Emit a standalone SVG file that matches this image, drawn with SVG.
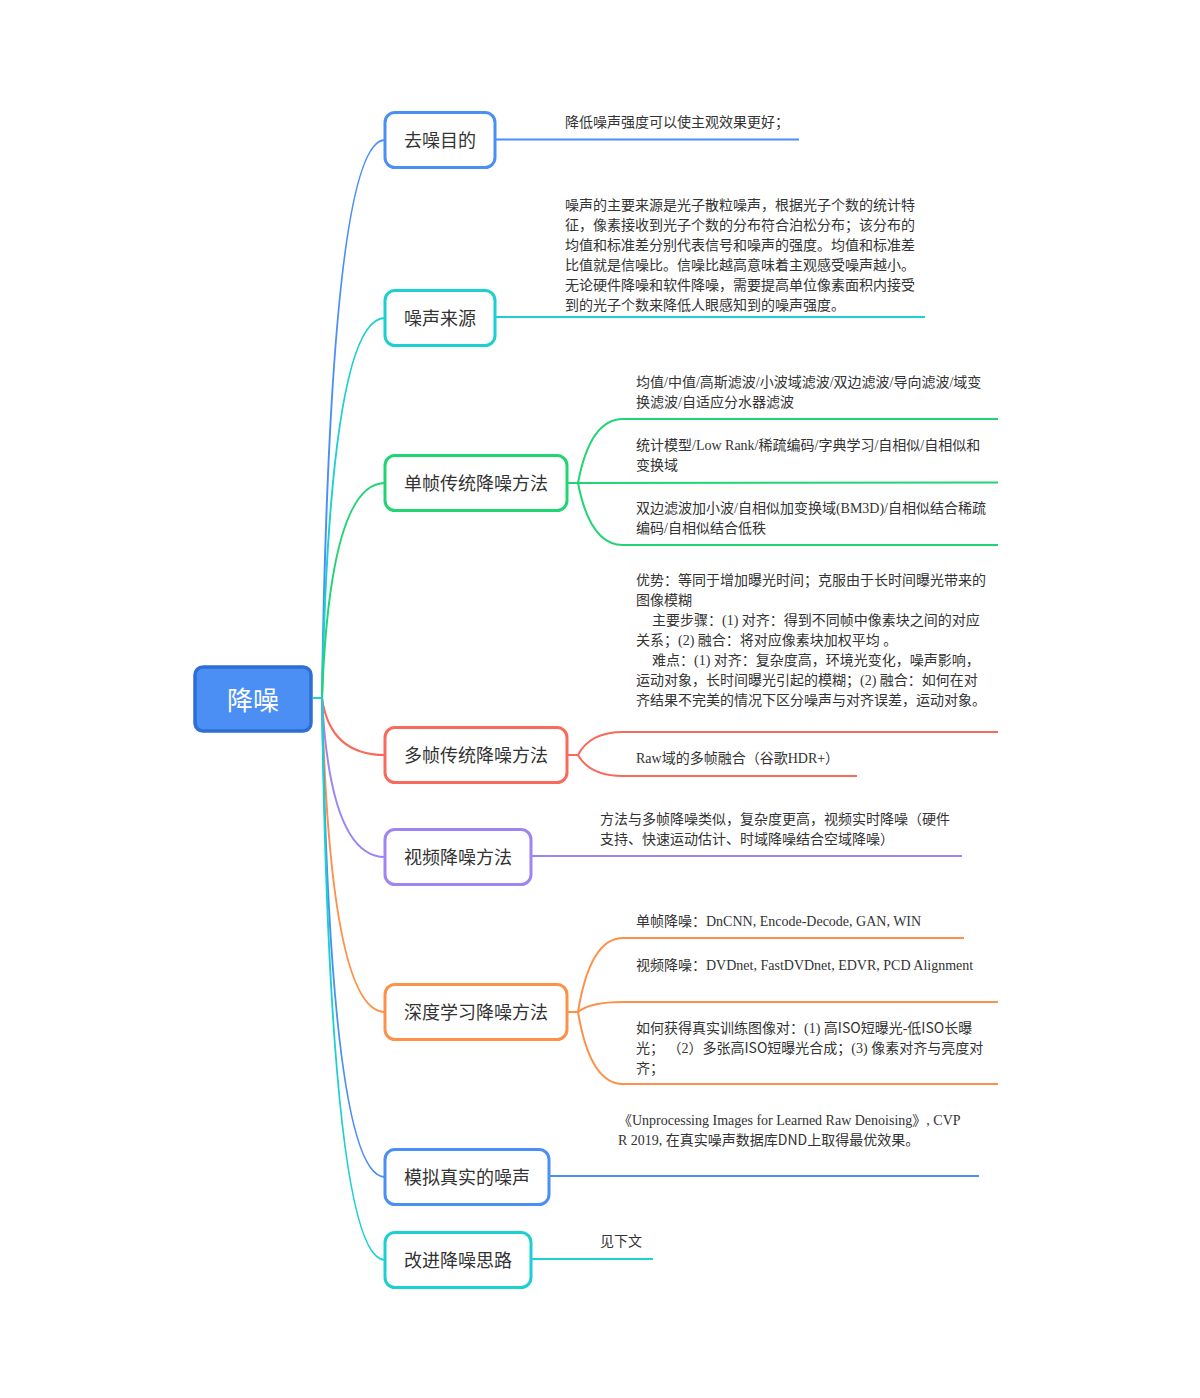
<svg xmlns="http://www.w3.org/2000/svg" width="1200" height="1398" viewBox="0 0 1200 1398">
<style>
.node{fill:#ffffff;stroke-width:3}
.lbl{font-family:"Noto Sans CJK SC","Noto Sans",sans-serif;font-size:18px;fill:#333333;text-anchor:middle}
.txt{font-family:"Liberation Serif","Noto Sans CJK SC",serif;font-size:14px;fill:#333333}
.sans{font-family:"Noto Sans CJK SC","Noto Sans",sans-serif}
.c{fill:none;stroke-width:2}
.blue{stroke:#4b8ff5}.cyan{stroke:#1ccfd1}.green{stroke:#21d474}.red{stroke:#f86b5c}.purple{stroke:#9d85f2}.orange{stroke:#fd914a}
</style>
<rect width="1200" height="1398" fill="#ffffff"/>
<g id="connectors">
<path class="c blue" d="M313,698 L322,698 Q330,140 385,140"/>
<path class="c cyan" d="M313,698 L322,698 Q330,318 385,318"/>
<path class="c green" d="M313,698 L322,698 Q330,483 385,483"/>
<path class="c red" d="M313,698 L322,698 Q330,755 385,755"/>
<path class="c purple" d="M313,698 L322,698 Q330,857 385,857"/>
<path class="c orange" d="M313,698 L322,698 Q330,1012 385,1012"/>
<path class="c blue" d="M313,698 L322,698 Q330,1177 385,1177"/>
<path class="c cyan" d="M313,698 L322,698 Q330,1260 385,1260"/>
<path class="c blue" d="M496,139.5 L799,139.5"/>
<path class="c cyan" d="M496,317 L925,317"/>
<path class="c green" d="M568,483 L578,483 Q590,419 623,419 L998,419"/>
<path class="c green" d="M578,483 L998,482.5"/>
<path class="c green" d="M578,483 Q590,545 623,545 L998,545"/>
<path class="c red" d="M568,755 L578,755 Q590,732 623,732 L998,732"/>
<path class="c red" d="M578,755 Q590,776 623,776 L857,776"/>
<path class="c purple" d="M532,856 L962,856"/>
<path class="c orange" d="M568,1012 L578,1012 Q590,938 623,938 L964,938"/>
<path class="c orange" d="M578,1012 Q590,1002 623,1002 L998,1002"/>
<path class="c orange" d="M578,1012 Q590,1084 623,1084 L998,1084"/>
<path class="c blue" d="M550,1176 L979,1176"/>
<path class="c cyan" d="M532,1259 L653,1259"/>
</g>
<g id="root">
<rect x="195" y="667" width="116" height="64" rx="8" fill="#4b8ff5" stroke="#2f6fd4" stroke-width="3.5"/>
<text x="253" y="709.5" font-family="Noto Sans CJK SC, sans-serif" font-size="26" fill="#ffffff" text-anchor="middle">降噪</text>
</g>
<g id="n1">
<rect class="node blue" x="385" y="112.5" width="110" height="55" rx="10"/>
<text class="lbl" x="440" y="146.5">去噪目的</text>
<text class="txt" x="565" y="127">降低噪声强度可以使主观效果更好；</text>
</g>
<g id="n2">
<rect class="node cyan" x="385" y="290.5" width="110" height="55" rx="10"/>
<text class="lbl" x="440" y="324.5">噪声来源</text>
<text class="txt" x="565" y="210">噪声的主要来源是光子散粒噪声，根据光子个数的统计特</text>
<text class="txt" x="565" y="230">征，像素接收到光子个数的分布符合泊松分布；该分布的</text>
<text class="txt" x="565" y="250">均值和标准差分别代表信号和噪声的强度。均值和标准差</text>
<text class="txt" x="565" y="270">比值就是信噪比。信噪比越高意味着主观感受噪声越小。</text>
<text class="txt" x="565" y="290">无论硬件降噪和软件降噪，需要提高单位像素面积内接受</text>
<text class="txt" x="565" y="310">到的光子个数来降低人眼感知到的噪声强度。</text>
</g>
<g id="n3">
<rect class="node green" x="385" y="455.5" width="182" height="55" rx="10"/>
<text class="lbl" x="476" y="489.5">单帧传统降噪方法</text>
<text class="txt" x="636" y="387">均值/中值/高斯滤波/小波域滤波/双边滤波/导向滤波/域变</text>
<text class="txt" x="636" y="407">换滤波/自适应分水器滤波</text>
<text class="txt" x="636" y="450">统计模型/Low Rank/稀疏编码/字典学习/自相似/自相似和</text>
<text class="txt" x="636" y="470">变换域</text>
<text class="txt" x="636" y="513">双边滤波加小波/自相似加变换域(BM3D)/自相似结合稀疏</text>
<text class="txt" x="636" y="533">编码/自相似结合低秩</text>
</g>
<g id="n4">
<rect class="node red" x="385" y="727.5" width="182" height="55" rx="10"/>
<text class="lbl" x="476" y="761.5">多帧传统降噪方法</text>
<text class="txt" x="636" y="585">优势：等同于增加曝光时间；克服由于长时间曝光带来的</text>
<text class="txt" x="636" y="605">图像模糊</text>
<text class="txt" x="652" y="625">主要步骤：(1) 对齐：得到不同帧中像素块之间的对应</text>
<text class="txt" x="636" y="645">关系；(2) 融合：将对应像素块加权平均 。</text>
<text class="txt" x="652" y="665">难点：(1) 对齐：复杂度高，环境光变化，噪声影响，</text>
<text class="txt" x="636" y="685">运动对象，长时间曝光引起的模糊；(2) 融合：如何在对</text>
<text class="txt" x="636" y="705">齐结果不完美的情况下区分噪声与对齐误差，运动对象。</text>
<text class="txt" x="636" y="763">Raw域的多帧融合（谷歌HDR+）</text>
</g>
<g id="n5">
<rect class="node purple" x="385" y="829.5" width="146" height="55" rx="10"/>
<text class="lbl" x="458" y="863.5">视频降噪方法</text>
<text class="txt" x="600" y="824">方法与多帧降噪类似，复杂度更高，视频实时降噪（硬件</text>
<text class="txt" x="600" y="844">支持、快速运动估计、时域降噪结合空域降噪）</text>
</g>
<g id="n6">
<rect class="node orange" x="385" y="984.5" width="182" height="55" rx="10"/>
<text class="lbl" x="476" y="1018.5">深度学习降噪方法</text>
<text class="txt" x="636" y="926">单帧降噪：DnCNN, Encode-Decode, GAN, WIN</text>
<text class="txt" x="636" y="970">视频降噪：DVDnet, FastDVDnet, EDVR, PCD Alignment</text>
<text class="txt" x="636" y="1033">如何获得真实训练图像对：(1) 高<tspan class="sans">ISO</tspan>短曝光-低<tspan class="sans">ISO</tspan>长曝</text>
<text class="txt" x="636" y="1053">光；&#160;（2）多张高<tspan class="sans">ISO</tspan>短曝光合成；(3) 像素对齐与亮度对</text>
<text class="txt" x="636" y="1073">齐；</text>
</g>
<g id="n7">
<rect class="node blue" x="385" y="1149.5" width="164" height="55" rx="10"/>
<text class="lbl" x="467" y="1183.5">模拟真实的噪声</text>
<text class="txt" x="618" y="1125">《Unprocessing Images for Learned Raw Denoising》, CVP</text>
<text class="txt" x="618" y="1145">R 2019, 在真实噪声数据库<tspan class="sans">DND</tspan>上取得最优效果。</text>
</g>
<g id="n8">
<rect class="node cyan" x="385" y="1232.5" width="146" height="55" rx="10"/>
<text class="lbl" x="458" y="1266.5">改进降噪思路</text>
<text class="txt" x="600" y="1246">见下文</text>
</g>
</svg>
